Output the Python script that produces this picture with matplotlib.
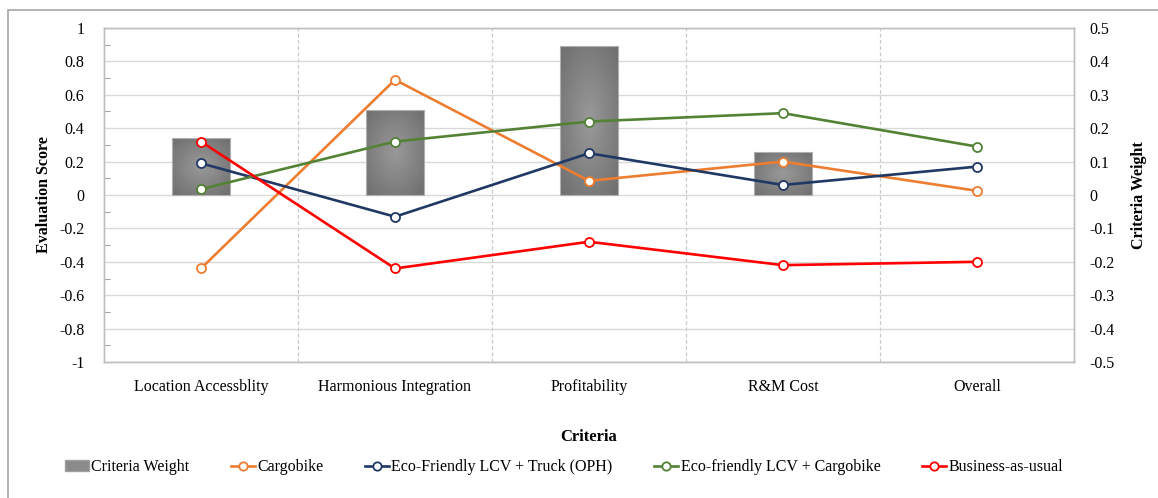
import numpy as np
import matplotlib
matplotlib.use("Agg")
import matplotlib.pyplot as plt
from matplotlib.lines import Line2D
from matplotlib.patches import Patch, Rectangle

plt.rcParams['font.family'] = ['Liberation Serif', 'DejaVu Serif']

# data
criteria = ['Location Accessblity', 'Harmonious Integration', 'Profitability',
            'R&M Cost', 'Overall']
weights = [0.17, 0.255, 0.445, 0.128, 0.0]
cargobike = [-0.44, 0.69, 0.085, 0.20, 0.025]
lcv_truck = [0.19, -0.13, 0.25, 0.06, 0.17]
lcv_cargobike = [0.035, 0.32, 0.44, 0.49, 0.29]
bau = [0.32, -0.44, -0.28, -0.42, -0.40]

series = [
    ('Cargobike', cargobike, '#ED7D31'),
    ('Eco-Friendly LCV + Truck (OPH)', lcv_truck, '#203864'),
    ('Eco-friendly LCV + Cargobike', lcv_cargobike, '#548235'),
    ('Business-as-usual', bau, '#FF0000'),
]

fig = plt.figure(figsize=(11.58, 4.98), dpi=100)
ax = fig.add_axes([104 / 1158, 1 - 362 / 498, (1074 - 104) / 1158, (362 - 28) / 498])
ax2 = ax.twinx()
# lines in front of bars
ax.set_zorder(ax2.get_zorder() + 1)
ax.patch.set_visible(False)

x = np.arange(len(criteria))

# gridlines and separators (on the back axis)
ax2.set_axisbelow(True)
ax2.grid(axis='y', color='#d9d9d9', lw=1.0)
for b in x[:-1] + 0.5:
    ax2.axvline(b, color='#c8c8c8', lw=0.9, ls=(0, (3, 2)), zorder=0.5)

# bars with a radial grey gradient
gy, gx = np.mgrid[-1:1:100j, -1:1:100j]
rad = np.sqrt(gx ** 2 + gy ** 2) / np.sqrt(2)
grad = 0.60 - 0.17 * rad
bars = ax2.bar(x, weights, width=0.30, color='none', edgecolor='#b0b0b0', lw=0.8, zorder=2)
for bar in bars:
    h = bar.get_height()
    if h <= 0:
        bar.set_linewidth(0)
        continue
    x0 = bar.get_x()
    im = ax2.imshow(grad, cmap='gray', vmin=0, vmax=1, aspect='auto',
                    extent=[x0, x0 + bar.get_width(), 0, h], zorder=1.5,
                    interpolation='bilinear')
    im.set_clip_path(bar)

# lines
for name, vals, col in series:
    ax.plot(x, vals, color=col, lw=1.9, marker='o', ms=6.5, mfc='white',
            mec=col, mew=1.3, zorder=3)

ax.set_xlim(-0.5, len(criteria) - 0.5)
ax.set_ylim(-1, 1)
ax2.set_ylim(-0.5, 0.5)


def fmt(v):
    v = round(float(v), 1) + 0.0
    return f'{v:g}'


left_ticks = np.arange(-1, 1.01, 0.2)
ax.set_yticks(left_ticks)
ax.set_yticklabels([fmt(v) for v in left_ticks])
ax.set_yticks(np.arange(-0.9, 1.0, 0.2), minor=True)
right_ticks = np.arange(-0.5, 0.51, 0.1)
ax2.set_yticks(right_ticks)
ax2.set_yticklabels([fmt(v) for v in right_ticks])

ax.set_xticks(x)
ax.set_xticklabels(criteria)

ax.tick_params(axis='y', which='major', length=0, pad=14, labelsize=11.5)
ax.tick_params(axis='y', which='minor', length=4, direction='in', color='#a6a6a6', width=0.8)
ax.tick_params(axis='x', length=0, pad=12, labelsize=11.5)
ax2.tick_params(axis='y', length=0, pad=11, labelsize=11.5)

for a in (ax, ax2):
    for s in a.spines.values():
        s.set_color('#bfbfbf')
        s.set_linewidth(1.0)

ax.set_ylabel('Evaluation Score', fontsize=11.5, fontweight='bold', labelpad=5)
ax2.set_ylabel('Criteria Weight', fontsize=11.5, fontweight='bold', labelpad=12)
ax.set_xlabel('Criteria', fontsize=12, fontweight='bold', labelpad=25)

# legend
handles = [Patch(facecolor='#8a8a8a', edgecolor='#a0a0a0', label='Criteria Weight')]
for name, vals, col in series:
    handles.append(Line2D([], [], color=col, lw=1.9, marker='o', ms=6, mfc='white',
                          mec=col, mew=1.3, label=name))
fig.legend(handles=handles, loc='center', bbox_to_anchor=(0.487, 0.062), ncol=5,
           frameon=False, fontsize=11.5, handlelength=1.5, handletextpad=0.15,
           columnspacing=2.6, numpoints=1)

# outer frame
fig.patches.append(Rectangle((8 / 1158, -0.1), 1.2, 1 - 10 / 498 + 0.1,
                             transform=fig.transFigure, fill=False,
                             edgecolor='#a6a6a6', lw=1.2))

fig.savefig('out.png', dpi=100)
